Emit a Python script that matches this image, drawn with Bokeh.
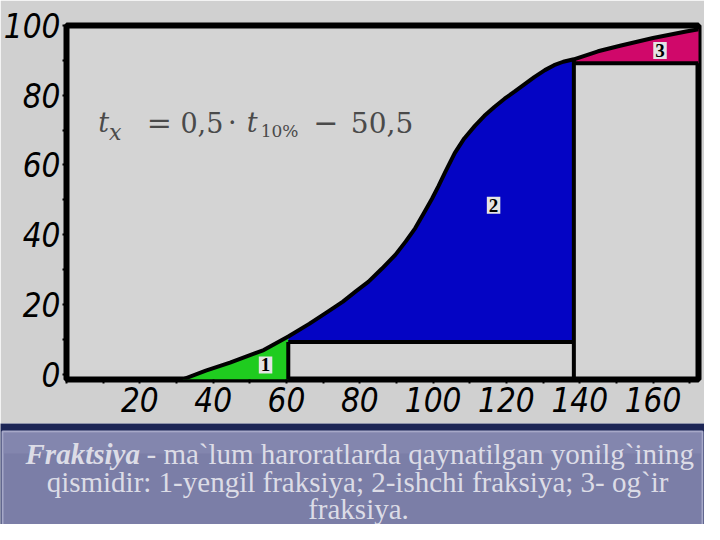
from bokeh.plotting import figure
from bokeh.models import Range1d, FixedTicker, Label
from bokeh.layouts import column
from bokeh.embed import file_html
from bokeh.resources import INLINE

# ---------------- data ----------------
curve_x = [31.6, 38, 44.6, 53.8, 60.5, 66.2, 71, 75.4, 79, 82.4, 86, 89.7, 92.5,
           95.1, 97.5, 99.7, 101.5, 103.2, 105.9, 108.5, 111.4, 114, 116.8, 119.5,
           122.2, 125, 127.6, 130.5, 133, 135.5, 138.4, 145, 151, 160, 169, 173]
curve_y = [-1.56, 1.0, 3.3, 6.9, 10.8, 14.4, 17.7, 20.8, 23.8, 26.5, 30.2, 34.2, 38.0,
           41.8, 46.2, 50.3, 54.0, 57.7, 63.4, 67.6, 71.2, 74.1, 76.7, 79.0,
           81.0, 83.2, 85.2, 87.2, 88.6, 89.6, 90.3, 92.6, 94.2, 96.4, 98.3, 99.0]

cut_light = 60.5      # boundary between fraction 1 and 2
cut_heavy = 138.4     # boundary between fraction 2 and 3
base_work = 9.2       # lower edge of fraction 2
base_heavy = 89.2     # lower edge of fraction 3

x_ticks = [20, 40, 60, 80, 100, 120, 140, 160]
x_minor = [0, 10, 30, 50, 70, 90, 110, 130, 150, 170]
y_ticks = [0, 20, 40, 60, 80, 100]
y_minor = [10, 30, 50, 70, 90]

region_labels = ["1", "2", "3"]

caption_bold = "Fraktsiya"
caption_line1 = "- ma`lum haroratlarda qaynatilgan yonilg`ining"
caption_line2 = "qismidir: 1-yengil fraksiya; 2-ishchi fraksiya; 3- og`ir"
caption_line3 = "fraksiya."

X0, X1 = 0, 172.4
Y0, Y1 = -1.56, 100

# ---------------- chart ----------------
H1 = 423
p = figure(width=704, height=H1, x_range=Range1d(X0, X1), y_range=Range1d(Y0, Y1),
           min_border_left=66, min_border_right=6, min_border_top=25, min_border_bottom=44,
           output_backend="svg", toolbar_location=None)
p.frame_align = False
p.background_fill_color = "#d4d4d4"
p.border_fill_color = "#d0d0d0"
p.outline_line_color = "black"
p.outline_line_width = 6
p.grid.visible = False

for ax in (p.xaxis[0], p.yaxis[0]):
    ax.axis_line_color = None
    ax.major_tick_out = 4
    ax.major_tick_in = 0
    ax.minor_tick_out = 4
    ax.minor_tick_in = 0
    ax.major_tick_line_width = 2
    ax.minor_tick_line_width = 2
    ax.major_tick_line_color = "black"
    ax.minor_tick_line_color = "black"
    ax.major_label_text_font = "'DejaVu Sans Condensed', 'Liberation Sans', sans-serif"
    ax.major_label_text_font_style = "italic"
    ax.major_label_text_font_size = "33px"
    ax.major_label_text_color = "black"

p.xaxis.ticker = FixedTicker(ticks=x_ticks, minor_ticks=x_minor)
p.yaxis.ticker = FixedTicker(ticks=y_ticks, minor_ticks=y_minor)
p.xaxis.major_label_standoff = 3
p.yaxis.major_label_standoff = 2

gx = [x for x in curve_x if x <= cut_light]
gy = curve_y[:len(gx)]
bx = [x for x in curve_x if cut_light <= x <= cut_heavy]
by = [y for x, y in zip(curve_x, curve_y) if cut_light <= x <= cut_heavy]
mx = [x for x in curve_x if x >= cut_heavy]
my = [y for x, y in zip(curve_x, curve_y) if x >= cut_heavy]

p.varea(x=gx, y1=[Y0] * len(gx), y2=gy, fill_color="#1fcc1f")
p.varea(x=bx, y1=[base_work] * len(bx), y2=by, fill_color="#0404c4")
p.varea(x=mx, y1=[base_heavy] * len(mx), y2=my, fill_color="#d0086a")

# separating lines
p.line(x=[cut_light, cut_light], y=[Y0, base_work], line_color="black", line_width=4)
p.line(x=[cut_light, cut_heavy], y=[base_work, base_work], line_color="black", line_width=4)
p.line(x=[cut_heavy, cut_heavy], y=[Y0, curve_y[curve_x.index(cut_heavy)]],
       line_color="black", line_width=4)
p.line(x=[cut_heavy, X1], y=[base_heavy, base_heavy], line_color="black", line_width=4)

# distillation curve
p.line(x=curve_x, y=curve_y, line_color="black", line_width=4, line_join="round")

# region numbers
for txt, (lx, ly) in zip(region_labels, [(54.3, 2.6), (116.5, 48.4), (161.9, 92.8)]):
    p.add_layout(Label(x=lx, y=ly, text=txt, text_align="center", text_baseline="middle",
                       text_font="Liberation Serif", text_font_style="bold",
                       text_font_size="19px", text_color="black",
                       background_fill_color="#e4e4e4", padding=2))

# formula  t_x = 0,5 · t_10% − 50,5   (positions given in reference pixels)
def dx(px):
    return (px - 68) / 3.7

def dy(py):
    return (382.5 - py) / 3.525

formula = [
    ("t", 100, 128, "27px", "italic"),
    ("x", 111, 138, "22px", "italic"),
    ("=", 149, 128, "30px", "normal"),
    ("0,5", 183, 128, "27px", "normal"),
    ("·", 231, 128, "27px", "normal"),
    ("t", 250, 128, "27px", "italic"),
    ("10%", 264, 137, "17px", "normal"),
    ("−", 317, 128, "30px", "normal"),
    ("50,5", 355, 128, "28px", "normal"),
]
for txt, px, py, size, style in formula:
    p.add_layout(Label(x=dx(px), y=dy(py), text=txt, text_align="left",
                       text_baseline="alphabetic", text_font="DejaVu Serif",
                       text_font_style=style, text_font_size=size, text_color="#4a4a4a"))

# ---------------- caption ----------------
H2 = 524 - H1
q = figure(width=704, height=H2, x_range=Range1d(0, 704), y_range=Range1d(524, H1),
           min_border=0, output_backend="svg", toolbar_location=None)
q.frame_align = False
q.axis.visible = False
q.grid.visible = False
q.outline_line_color = None
q.background_fill_color = "#1d2656"
q.border_fill_color = "#1d2656"
q.quad(left=2, right=702, top=H1 + 8, bottom=560, fill_color="#7b7ea7",
       line_color="#a6a8c8", line_width=2)
q.quad(left=3, right=701, top=H1 + 9, bottom=H1 + 30, fill_color="#8b8eb5",
       line_color=None, fill_alpha=0.5)

cap_font = "Liberation Serif"
cap_col = "#dcdce6"
cap_size = "29px"
q.add_layout(Label(x=25, y=453, text=caption_bold, text_font=cap_font,
                   text_font_style="bold italic", text_font_size=cap_size,
                   text_color=cap_col, text_baseline="alphabetic"))
q.add_layout(Label(x=146, y=453, text=caption_line1, text_font=cap_font,
                   text_font_size=cap_size, text_color=cap_col, text_baseline="alphabetic"))
q.add_layout(Label(x=357, y=481, text=caption_line2, text_font=cap_font, text_align="center",
                   text_font_size=cap_size, text_color=cap_col, text_baseline="alphabetic"))
q.add_layout(Label(x=358, y=508, text=caption_line3, text_font=cap_font, text_align="center",
                   text_font_size=cap_size, text_color=cap_col, text_baseline="alphabetic"))

layout = column(p, q, spacing=0)
open("out.html", "w").write(file_html(layout, INLINE))
